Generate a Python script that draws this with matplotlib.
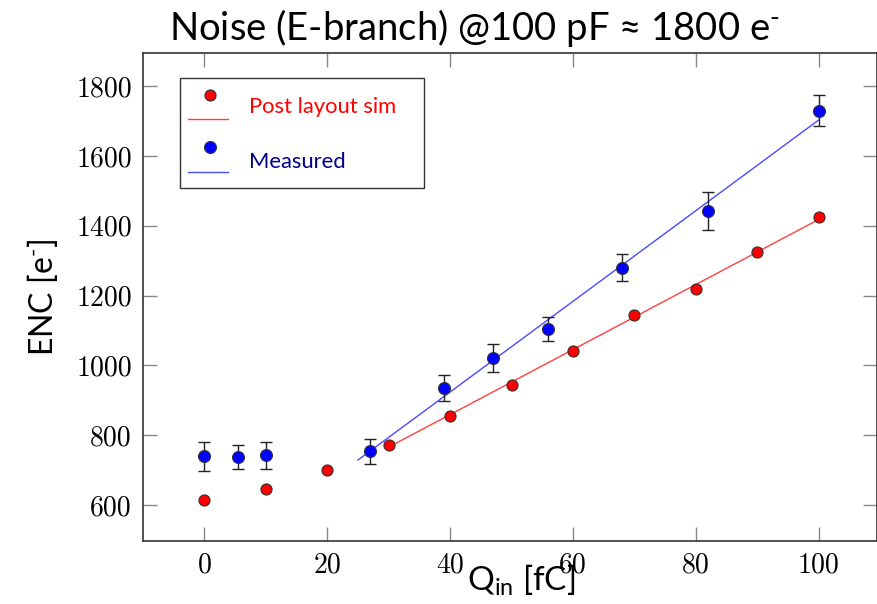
import matplotlib
matplotlib.use("Agg")
import matplotlib.pyplot as plt
from matplotlib.patches import Rectangle
from matplotlib.lines import Line2D

plt.rcParams["mathtext.fontset"] = "custom"
plt.rcParams["mathtext.rm"] = "Lato"
plt.rcParams["mathtext.sf"] = "Lato"
plt.rcParams["mathtext.it"] = "Lato:italic"
plt.rcParams["mathtext.bf"] = "Lato:bold"

# ---- data ----
sim_x = [0, 10, 20, 30, 40, 50, 60, 70, 80, 90, 100]
sim_y = [614, 647, 700, 771, 855, 945, 1042, 1144, 1218, 1324, 1425]

meas_x = [0, 5.5, 10, 27, 39, 47, 56, 68, 82, 100]
meas_y = [740, 737, 742, 754, 935, 1022, 1105, 1280, 1442, 1730]
meas_err = [42, 35, 40, 35, 38, 40, 35, 38, 54, 45]

sim_fit_x = [30, 100]
sim_fit_y = [766, 1418]
meas_fit_x = [25, 100]
meas_fit_y = [729, 1703]

x_ticks = [0, 20, 40, 60, 80, 100]
y_ticks = [600, 800, 1000, 1200, 1400, 1600, 1800]

HY = "\u2010"
title = "Noise (E-branch) @100 pF \u2248 1800 e$^{\\mathrm{" + HY + "}}$"
ylabel = "ENC [e$^{\\mathrm{" + HY + "}}$]"
xlabel = "Q$_{\\mathrm{in}}$ [fC]"
sans = ["Lato", "DejaVu Sans"]

fig = plt.figure(figsize=(8.77, 6.04), dpi=100)
ax = fig.add_axes([143/877, 1-541/604, 734/877, 488/604])

ax.plot(sim_fit_x, sim_fit_y, color="#ff4040", lw=1.0, zorder=2)
ax.plot(meas_fit_x, meas_fit_y, color="#4a4aff", lw=1.0, zorder=2)
ax.errorbar(meas_x, meas_y, yerr=meas_err, fmt="none", ecolor="#222222",
            elinewidth=1.0, capsize=4.5, capthick=1.0, zorder=3)
ax.plot(sim_x, sim_y, "o", color="#ff0000", mec="#333333", mew=0.8, ms=8, zorder=4, ls="none")
ax.plot(meas_x, meas_y, "o", color="#0000ff", mec="#333333", mew=0.8, ms=8.6, zorder=4, ls="none")

ax.set_xlim(-10, 109.5)
ax.set_ylim(497, 1895)
ax.set_xticks(x_ticks)
ax.set_yticks(y_ticks)
ax.tick_params(direction="in", length=10, width=1, color="#888888",
               top=True, right=True, labelsize=20, pad=8)
for lab in ax.get_xticklabels() + ax.get_yticklabels():
    lab.set_fontfamily("cmr10")
for s in ax.spines.values():
    s.set_color("#333333")
    s.set_linewidth(1.2)

ax.set_xlabel(xlabel, fontsize=24, family=sans, labelpad=-11)
ax.xaxis.label.set_x(0.515)
ax.set_ylabel(ylabel, fontsize=23, family=sans, labelpad=12)
ax.yaxis.label.set_y(0.50)
fig.text(474/877, 1-28/604, title, fontsize=27.5, family=sans, ha="center", va="center")

# legend (custom layout: marker row above line row)
ax.add_patch(Rectangle((0.050, 0.723), 0.333, 0.226, transform=ax.transAxes,
                       fill=False, ec="#333333", lw=1.0, zorder=5))
ax.add_line(Line2D([0.091], [0.914], transform=ax.transAxes, marker="o", color="#ff0000",
                   mec="#333333", mew=0.8, ms=8, ls="none", zorder=6))
ax.add_line(Line2D([0.061, 0.116], [0.865, 0.865], transform=ax.transAxes, color="#ff4040", lw=1.0, zorder=6))
ax.add_line(Line2D([0.091], [0.807], transform=ax.transAxes, marker="o", color="#0000ff",
                   mec="#333333", mew=0.8, ms=8.6, ls="none", zorder=6))
ax.add_line(Line2D([0.061, 0.116], [0.756, 0.756], transform=ax.transAxes, color="#4a4aff", lw=1.0, zorder=6))
ax.text(0.144, 0.889, "Post layout sim", transform=ax.transAxes, color="#ff0000",
        fontsize=15.8, family=sans, va="center", ha="left", zorder=6)
ax.text(0.144, 0.777, "Measured", transform=ax.transAxes, color="#00008b",
        fontsize=15.8, family=sans, va="center", ha="left", zorder=6)

fig.savefig("out.png", dpi=100)
